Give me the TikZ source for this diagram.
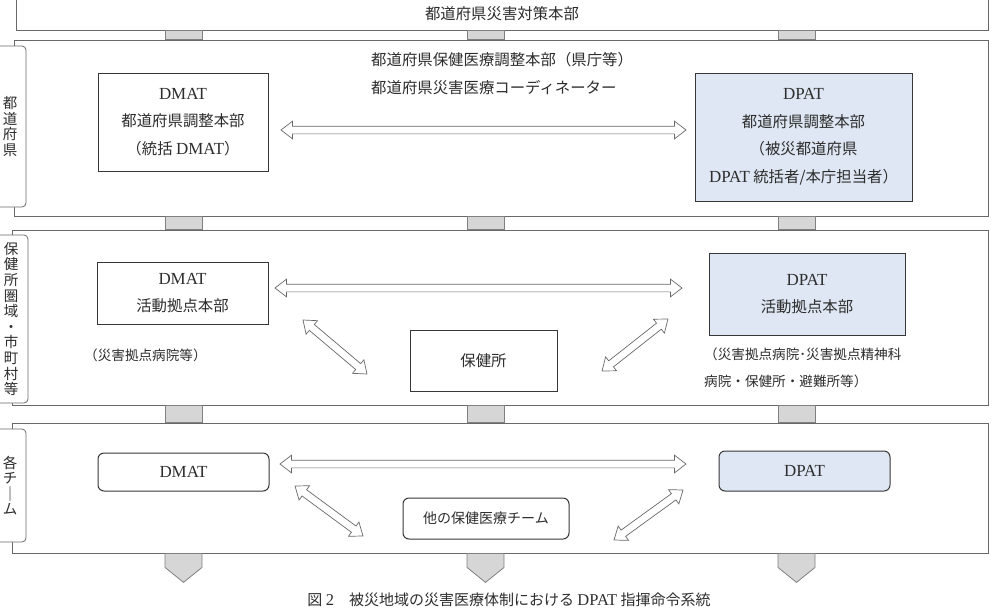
\documentclass[tikz,border=0pt]{standalone}
\usepackage{fontspec}
\setmainfont{Noto Sans CJK JP}
\newfontfamily\latin[Scale=1.1]{Liberation Serif}
\usetikzlibrary{shapes.arrows, calc}

\definecolor{linegray}{RGB}{105,105,105}
\definecolor{boxline}{RGB}{55,55,55}
\definecolor{txt}{RGB}{45,45,45}
\definecolor{linkfill}{RGB}{214,214,214}
\definecolor{dpatblue}{RGB}{222,231,243}

% hollow two-headed arrow between two named points
\newcommand\hollowlink[2]{%
  \path let \p1=(#1), \p2=(#2),
        \n1={atan2(\y2-\y1,\x2-\x1)}, \n2={veclen(\x2-\x1,\y2-\y1)}
    in node[darr, rotate=\n1, minimum height=\n2] at ($(#1)!0.5!(#2)$) {};}

\begin{document}
\begin{tikzpicture}[x=1pt, y=-1pt,
        every node/.style={text=txt},
        band/.style={draw=linegray, line width=0.8pt, inner sep=0pt, fill=white},
        side/.style={draw=linegray, line width=0.8pt, rounded corners=4pt,
                     fill=white, inner sep=0pt, align=center,
                     font=\fontsize{14.5}{15.6}\selectfont},
        hq/.style={draw=boxline, line width=1pt, inner sep=0pt, align=center,
                   font=\fontsize{15.4}{27.5}\selectfont},
        dpat/.style={hq, fill=dpatblue},
        team/.style={hq, rounded corners=6pt},
        note/.style={inner sep=0pt, align=left, font=\fontsize{13.6}{27}\selectfont},
        link/.style={draw=gray, fill=linkfill, line width=0.8pt},
        darr/.style={double arrow, draw=linegray, fill=white, line width=0.7pt,
                     inner xsep=0pt, inner ysep=3.5pt, double arrow head extend=5pt,
                     double arrow tip angle=75}
    ]
    \useasboundingbox (0,0) rectangle (993,611);

    % bands
    \node[band, minimum width=972pt, minimum height=32pt,
          font=\fontsize{15.4}{18}\selectfont] (top) at (502,14) {都道府県災害対策本部};
    \node[band, minimum width=974pt, minimum height=176pt] (pref) at (501,128) {};
    \node[band, minimum width=976pt, minimum height=175pt] (area) at (500,317.5) {};
    \node[band, minimum width=976pt, minimum height=130pt] (teams) at (500,488) {};

    % links between bands
    \foreach \cx in {165,467,778} {
        \draw[link] (\cx,0 |- top.south) rectangle (\cx+37,0 |- pref.north);
        \draw[link] (\cx,0 |- pref.south) rectangle (\cx+37,0 |- area.north);
        \draw[link] (\cx,0 |- area.south) rectangle (\cx+37,0 |- teams.north);
        \draw[link] (\cx,0 |- teams.south) -- ++(37,0) -- ++(0,14)
                    -- ++(-18.5,15) -- ++(-18.5,-15) -- cycle;
    }

    % side labels
    \node[side, minimum width=32pt, minimum height=161pt] (prefl) at (10,126.5)
        {都\\道\\府\\県};
    \node[side, minimum width=34pt, minimum height=168pt] (areal) at (11,319)
        {保\\健\\所\\圏\\域\\・\\市\\町\\村\\等};
    \node[side, minimum width=32pt, minimum height=113pt] (teamsl) at (10,485.5)
        {各\\チ\\｜\\ム};

    % prefecture level
    \node[inner sep=0pt, anchor=west, align=left,
          font=\fontsize{15.4}{28}\selectfont] (prefhq) at (371,74)
        {都道府県保健医療調整本部（県庁等）\\都道府県災害医療コーディネーター};
    \node[hq, minimum width=170pt, minimum height=98pt] (dmatP) at (183,122)
        {{\latin DMAT}\\都道府県調整本部\\（統括 {\latin DMAT}）};
    \node[dpat, minimum width=217pt, minimum height=128pt] (dpatP) at (803.5,137)
        {{\latin DPAT}\\都道府県調整本部\\（被災都道府県\\{\latin DPAT} 統括者/本庁担当者）};

    % health centre area
    \node[hq, minimum width=171pt, minimum height=62pt] (dmatA) at (182.5,293)
        {{\latin DMAT}\\活動拠点本部};
    \node[hq, minimum width=147pt, minimum height=61pt] (hc) at (483.5,360.5) {保健所};
    \node[dpat, minimum width=196pt, minimum height=82pt] (dpatA) at (807,294)
        {{\latin DPAT}\\活動拠点本部};
    \node[note, anchor=west] (dmatAnote) at (84,355) {（災害拠点病院等）};
    \node[note, anchor=west] (dpatAnote) at (704,367.5)
        {（災害拠点病院･災害拠点精神科\\病院・保健所・避難所等）};

    % teams
    \node[team, minimum width=171pt, minimum height=38pt] (dmatT) at (183.5,472) {{\latin DMAT}};
    \node[team, fill=dpatblue, minimum width=171pt, minimum height=40pt] (dpatT) at (804.5,471)
        {{\latin DPAT}};
    \node[team, minimum width=166pt, minimum height=41pt,
          font=\fontsize{14}{17}\selectfont] (other) at (486,518.5) {他の保健医療チーム};

    % arrow ends
    \coordinate (p1) at (281,130);  \coordinate (p2) at (686,130);
    \coordinate (a1) at (275,288);  \coordinate (a2) at (682,288);
    \coordinate (a3) at (303,320);  \coordinate (a4) at (367,374);
    \coordinate (a5) at (602,371);  \coordinate (a6) at (668,319);
    \coordinate (t1) at (280,464);  \coordinate (t2) at (686,464);
    \coordinate (t3) at (295,486);  \coordinate (t4) at (363,536);
    \coordinate (t5) at (614,540);  \coordinate (t6) at (683,490);

    \hollowlink{p1}{p2}
    \hollowlink{a1}{a2}
    \hollowlink{a3}{a4}
    \hollowlink{a5}{a6}
    \hollowlink{t1}{t2}
    \hollowlink{t3}{t4}
    \hollowlink{t5}{t6}

    \node[font=\fontsize{15}{18}\selectfont] (caption) at (509,600)
        {図 {\latin 2}　被災地域の災害医療体制における {\latin DPAT} 指揮命令系統};
\end{tikzpicture}
\end{document}
